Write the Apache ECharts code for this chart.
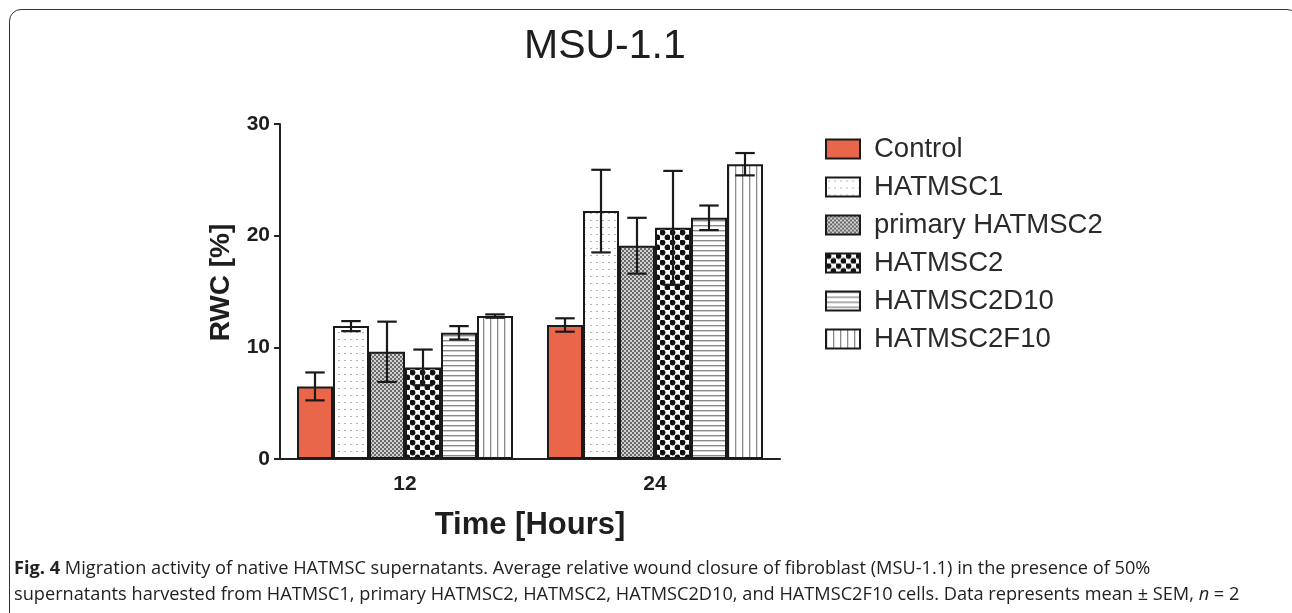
<!DOCTYPE html>
<html>
<head>
<meta charset="utf-8">
<script src="https://cdn.jsdelivr.net/npm/echarts@6/dist/echarts.min.js"></script>
<style>
  html, body { margin: 0; padding: 0; background: #ffffff; }
  #wrap { position: relative; width: 1292px; height: 613px; overflow: hidden; }
  #chart { position: absolute; left: 0; top: 0; width: 1292px; height: 613px; }
  #frame { position: absolute; left: 9px; top: 9px; width: 1290px; height: 700px;
           border: 1.5px solid #333; border-radius: 12px; pointer-events: none; box-sizing: border-box; }
  #caption { position: absolute; left: 14px; top: 554px; width: 1275px; white-space: nowrap;
             font-family: "Open Sans", sans-serif; font-size: 18.2px; line-height: 26px; color: #222; }
</style>
</head>
<body>
<div id="wrap">
  <div id="chart"></div>
  <div id="frame"></div>
  <div id="caption"><b>Fig. 4</b> Migration activity of native HATMSC supernatants. Average relative wound closure of fibroblast (MSU-1.1) in the presence of 50%<br>supernatants harvested from HATMSC1, primary HATMSC2, HATMSC2, HATMSC2D10, and HATMSC2F10 cells. Data represents mean ± SEM, <i>n</i> = 2</div>
</div>
<script>
// ---- data ----
var categories = ['12', '24'];
var seriesNames = ['Control', 'HATMSC1', 'primary HATMSC2', 'HATMSC2', 'HATMSC2D10', 'HATMSC2F10'];
var controlMean = [6.5, 12.0];
var controlSem = [1.25, 0.6];
var hatmsc1Mean = [11.9, 22.2];
var hatmsc1Sem = [0.45, 3.7];
var primaryMean = [9.6, 19.1];
var primarySem = [2.7, 2.5];
var hatmsc2Mean = [8.2, 20.7];
var hatmsc2Sem = [1.6, 5.1];
var d10Mean = [11.3, 21.6];
var d10Sem = [0.6, 1.1];
var f10Mean = [12.8, 26.4];
var f10Sem = [0.15, 1.0];
var yTicks = [0, 10, 20, 30];

var means = [controlMean, hatmsc1Mean, primaryMean, hatmsc2Mean, d10Mean, f10Mean];
var sems = [controlSem, hatmsc1Sem, primarySem, hatmsc2Sem, d10Sem, f10Sem];

// ---- patterns ----
function tile(w, h, draw) {
  var c = document.createElement('canvas');
  c.width = w; c.height = h;
  var g = c.getContext('2d');
  g.fillStyle = '#ffffff'; g.fillRect(0, 0, w, h);
  draw(g);
  return { image: c, repeat: 'repeat' };
}
var fills = [
  '#E9664B',
  tile(6, 7, function (g) { g.fillStyle = '#b4b4b4'; g.fillRect(2, 3, 2, 1); }),
  tile(4, 4, function (g) { g.fillStyle = '#cfcfcf'; g.fillRect(0, 0, 4, 4); g.fillStyle = '#6a6a6a'; g.fillRect(0, 0, 2, 2); g.fillRect(2, 2, 2, 2); }),
  tile(10, 10, function (g) { g.fillStyle = '#111'; g.beginPath(); g.arc(2.5, 2.5, 2.9, 0, Math.PI * 2); g.fill(); g.beginPath(); g.arc(7.5, 7.5, 2.9, 0, Math.PI * 2); g.fill(); }),
  tile(1, 5, function (g) { g.fillStyle = '#8a8a8a'; g.fillRect(0, 0, 1, 1.4); }),
  tile(7, 1, function (g) { g.fillStyle = '#8a8a8a'; g.fillRect(0, 0, 1.3, 1); })
];

var BAR_FRAC = 0.144;
var FONT = 'Liberation Sans, Arial, sans-serif';
var series = [];
seriesNames.forEach(function (name, i) {
  series.push({
    name: name,
    type: 'bar',
    data: means[i],
    barWidth: (BAR_FRAC * 100) + '%',
    barGap: '0%',
    itemStyle: { color: fills[i], borderColor: '#1a1a1a', borderWidth: 2 },
    emphasis: { disabled: true },
    z: 2
  });
});
seriesNames.forEach(function (name, i) {
  series.push({
    name: name + ' SEM',
    type: 'custom',
    z: 5,
    silent: true,
    data: means[i].map(function (m, k) { return [k, m, sems[i][k]]; }),
    encode: { x: 0, y: 1 },
    renderItem: function (params, api) {
      var k = api.value(0), m = api.value(1), e = api.value(2);
      var band = api.size([1, 0])[0];
      var bw = band * BAR_FRAC;
      var off = (i - (seriesNames.length - 1) / 2) * bw;
      var top = api.coord([k, m + e]);
      var bot = api.coord([k, m - e]);
      var x = top[0] + off;
      var cap = bw * 0.27;
      var st = { stroke: '#1a1a1a', lineWidth: 2.2 };
      return {
        type: 'group',
        children: [
          { type: 'line', shape: { x1: x, y1: top[1], x2: x, y2: bot[1] }, style: st },
          { type: 'line', shape: { x1: x - cap, y1: top[1], x2: x + cap, y2: top[1] }, style: st },
          { type: 'line', shape: { x1: x - cap, y1: bot[1], x2: x + cap, y2: bot[1] }, style: st }
        ]
      };
    }
  });
});

var chart = echarts.init(document.getElementById('chart'), null, { renderer: 'canvas' });
chart.setOption({
  animation: false,
  backgroundColor: 'transparent',
  title: {
    text: 'MSU-1.1',
    left: 519, top: 21,
    textStyle: { fontFamily: FONT, fontSize: 41, fontWeight: 'normal', color: '#1e1e1e' }
  },
  grid: { left: 280, top: 124, width: 500, height: 335 },
  legend: {
    data: seriesNames,
    orient: 'vertical',
    left: 820, top: 130,
    itemWidth: 34, itemHeight: 19, itemGap: 10,
    icon: 'rect',
    itemStyle: { borderColor: '#1a1a1a', borderWidth: 2 },
    textStyle: { fontFamily: FONT, fontSize: 27.5, color: '#2a2a2a', padding: [0, 0, 0, 9], lineHeight: 25 },
    selectedMode: false
  },
  xAxis: {
    type: 'category',
    data: categories,
    name: 'Time [Hours]',
    nameLocation: 'middle',
    nameGap: 51,
    nameTextStyle: { fontFamily: FONT, fontSize: 31, fontWeight: 'bold', color: '#1e1e1e' },
    axisLine: { lineStyle: { color: '#222', width: 2 } },
    axisTick: { alignWithLabel: true, length: 6, lineStyle: { width: 2, color: '#222' } },
    axisLabel: { fontFamily: FONT, fontSize: 21, fontWeight: 'bold', color: '#1e1e1e', margin: 15 }
  },
  yAxis: {
    type: 'value',
    min: yTicks[0], max: yTicks[yTicks.length - 1], interval: 10,
    name: 'RWC [%]',
    nameLocation: 'middle',
    nameGap: 45,
    nameRotate: 90,
    nameTextStyle: { fontFamily: FONT, fontSize: 28, fontWeight: 'bold', color: '#1e1e1e', padding: [0, 0, 0, 18] },
    axisLine: { show: true, lineStyle: { color: '#222', width: 2 } },
    axisTick: { show: true, length: 6, lineStyle: { width: 2, color: '#222' } },
    axisLabel: { fontFamily: FONT, fontSize: 21, fontWeight: 'bold', color: '#1e1e1e', margin: 10 },
    splitLine: { show: false }
  },
  series: series
});
</script>
</body>
</html>
